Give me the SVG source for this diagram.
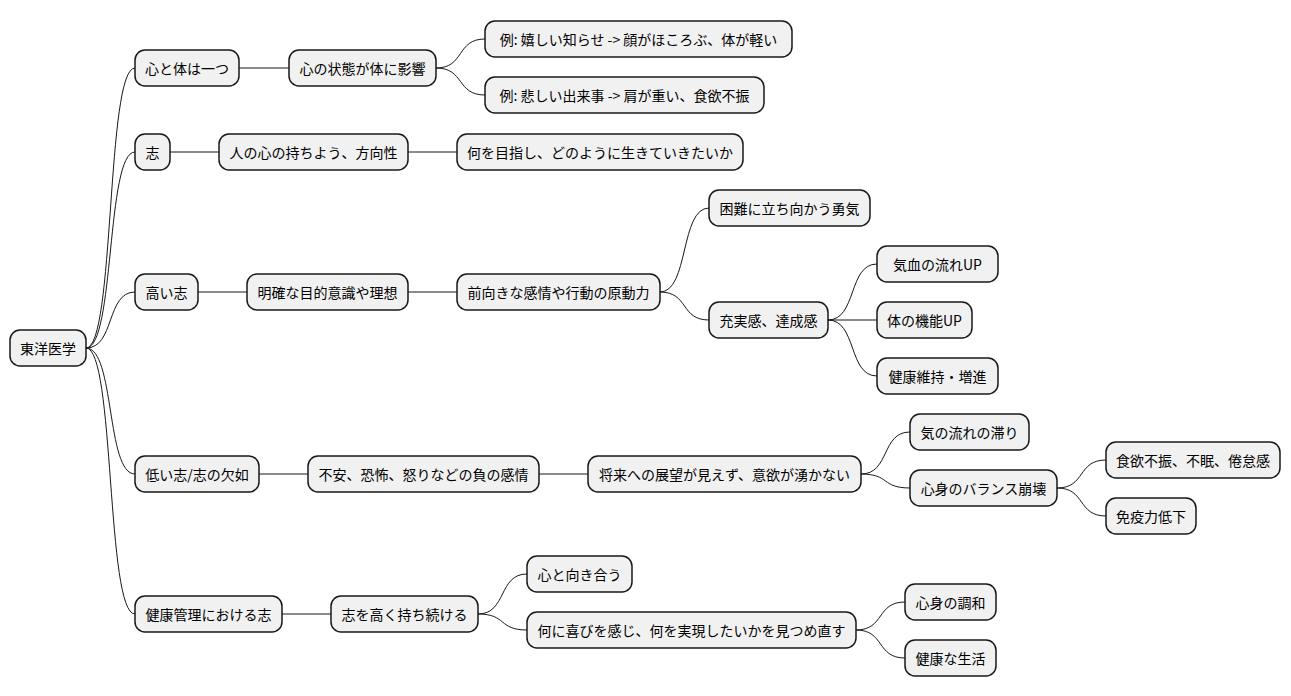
<svg xmlns="http://www.w3.org/2000/svg" width="1291" height="696" viewBox="0 0 1291 696">
<style>
rect{fill:#f1f1f1;stroke:#181818;stroke-width:1.5}
text{font-family:"Noto Sans CJK JP","Noto Sans",sans-serif;font-size:14px;fill:#000;text-anchor:middle;dominant-baseline:central}
#edges path{fill:none;stroke:#181818;stroke-width:1}
</style>
<rect width="1291" height="696" style="fill:#fff;stroke:none"/>
<g id="edges">
<path d="M86,348 C115,348 106,68 135,68"/>
<path d="M86,348 C115,348 106,152 135,152"/>
<path d="M86,348 C115,348 106,292 135,292"/>
<path d="M86,348 C115,348 106,474 135,474"/>
<path d="M86,348 C115,348 106,614 135,614"/>
<path d="M239,68 L289,68"/>
<path d="M436,68 C465,68 456,39 485,39"/>
<path d="M436,68 C465,68 456,95 485,95"/>
<path d="M170,152 L219,152"/>
<path d="M408,152 L457,152"/>
<path d="M198,292 L247,292"/>
<path d="M408,292 L457,292"/>
<path d="M660,292 C689,292 680,208 709,208"/>
<path d="M660,292 C689,292 680,320 709,320"/>
<path d="M828,320 C857,320 848,264 877,264"/>
<path d="M828,320 L877,320"/>
<path d="M828,320 C857,320 848,376 877,376"/>
<path d="M259,474 L308,474"/>
<path d="M539,474 L588,474"/>
<path d="M861,474 C890,474 881,432 910,432"/>
<path d="M861,474 C890,474 881,488 910,488"/>
<path d="M1057,488 C1086,488 1077,460 1106,460"/>
<path d="M1057,488 C1086,488 1077,516 1106,516"/>
<path d="M282,614 L331,614"/>
<path d="M478,614 C507,614 498,574 527,574"/>
<path d="M478,614 C507,614 498,630 527,630"/>
<path d="M856,630 C885,630 876,602 905,602"/>
<path d="M856,630 C885,630 876,658 905,658"/>
</g>
<g id="n0"><rect x="10" y="330" width="76" height="36" rx="10"/><text x="48" y="348">東洋医学</text></g>
<g id="n1"><rect x="135" y="50" width="104" height="36" rx="10"/><text x="187" y="68">心と体は一つ</text></g>
<g id="n2"><rect x="289" y="50" width="147" height="36" rx="10"/><text x="362.5" y="68">心の状態が体に影響</text></g>
<g id="n3"><rect x="485" y="21" width="307" height="36" rx="10"/><text x="638.5" y="39">例: 嬉しい知らせ -&gt; 顔がほころぶ、体が軽い</text></g>
<g id="n4"><rect x="485" y="77" width="279" height="36" rx="10"/><text x="624.5" y="95">例: 悲しい出来事 -&gt; 肩が重い、食欲不振</text></g>
<g id="n5"><rect x="135" y="134" width="35" height="36" rx="10"/><text x="152.5" y="152">志</text></g>
<g id="n6"><rect x="219" y="134" width="189" height="36" rx="10"/><text x="313.5" y="152">人の心の持ちよう、方向性</text></g>
<g id="n7"><rect x="457" y="134" width="286" height="36" rx="10"/><text x="600" y="152">何を目指し、どのように生きていきたいか</text></g>
<g id="n8"><rect x="135" y="274" width="63" height="36" rx="10"/><text x="166.5" y="292">高い志</text></g>
<g id="n9"><rect x="247" y="274" width="161" height="36" rx="10"/><text x="327.5" y="292">明確な目的意識や理想</text></g>
<g id="n10"><rect x="457" y="274" width="203" height="36" rx="10"/><text x="558.5" y="292">前向きな感情や行動の原動力</text></g>
<g id="n11"><rect x="709" y="190" width="161" height="36" rx="10"/><text x="789.5" y="208">困難に立ち向かう勇気</text></g>
<g id="n12"><rect x="709" y="302" width="119" height="36" rx="10"/><text x="768.5" y="320">充実感、達成感</text></g>
<g id="n13"><rect x="877" y="246" width="121" height="36" rx="10"/><text x="937.5" y="264">気血の流れUP</text></g>
<g id="n14"><rect x="877" y="302" width="95" height="36" rx="10"/><text x="924.5" y="320">体の機能UP</text></g>
<g id="n15"><rect x="877" y="358" width="121" height="36" rx="10"/><text x="937.5" y="376">健康維持・増進</text></g>
<g id="n16"><rect x="135" y="456" width="124" height="36" rx="10"/><text x="197" y="474">低い志/志の欠如</text></g>
<g id="n17"><rect x="308" y="456" width="231" height="36" rx="10"/><text x="423.5" y="474">不安、恐怖、怒りなどの負の感情</text></g>
<g id="n18"><rect x="588" y="456" width="273" height="36" rx="10"/><text x="724.5" y="474">将来への展望が見えず、意欲が湧かない</text></g>
<g id="n19"><rect x="910" y="414" width="119" height="36" rx="10"/><text x="969.5" y="432">気の流れの滞り</text></g>
<g id="n20"><rect x="910" y="470" width="147" height="36" rx="10"/><text x="983.5" y="488">心身のバランス崩壊</text></g>
<g id="n21"><rect x="1106" y="442" width="174" height="36" rx="10"/><text x="1193" y="460">食欲不振、不眠、倦怠感</text></g>
<g id="n22"><rect x="1106" y="498" width="90" height="36" rx="10"/><text x="1151" y="516">免疫力低下</text></g>
<g id="n23"><rect x="135" y="596" width="147" height="36" rx="10"/><text x="208.5" y="614">健康管理における志</text></g>
<g id="n24"><rect x="331" y="596" width="147" height="36" rx="10"/><text x="404.5" y="614">志を高く持ち続ける</text></g>
<g id="n25"><rect x="527" y="556" width="105" height="36" rx="10"/><text x="579.5" y="574">心と向き合う</text></g>
<g id="n26"><rect x="527" y="612" width="329" height="36" rx="10"/><text x="691.5" y="630">何に喜びを感じ、何を実現したいかを見つめ直す</text></g>
<g id="n27"><rect x="905" y="584" width="91" height="36" rx="10"/><text x="950.5" y="602">心身の調和</text></g>
<g id="n28"><rect x="905" y="640" width="91" height="36" rx="10"/><text x="950.5" y="658">健康な生活</text></g>
</svg>
